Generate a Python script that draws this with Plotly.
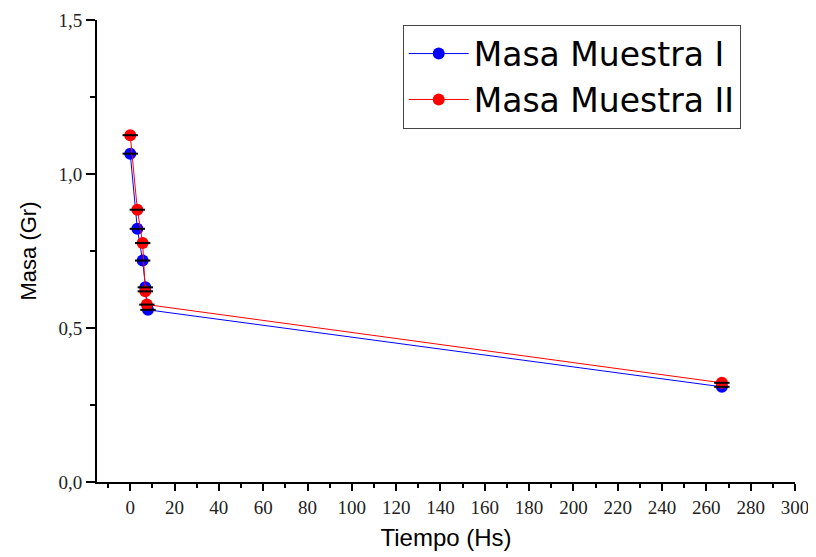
import plotly.graph_objects as go

tiempo_1 = [0, 3.2, 5.6, 6.8, 8.0, 267]
masa_1 = [1.066, 0.822, 0.719, 0.632, 0.559, 0.309]
tiempo_2 = [0, 3.2, 5.6, 6.8, 7.5, 267]
masa_2 = [1.126, 0.884, 0.776, 0.619, 0.576, 0.322]
nombres = ["Masa Muestra I", "Masa Muestra II"]
colores = ["#0000FF", "#FF0000"]

fig = go.Figure()
for t, m, n, c in [(tiempo_1, masa_1, nombres[0], colores[0]),
                   (tiempo_2, masa_2, nombres[1], colores[1])]:
    fig.add_trace(go.Scatter(
        x=t, y=m, name=n, mode="lines+markers",
        line=dict(color=c, width=1),
        marker=dict(color=c, size=12, symbol="circle"),
    ))
for t, m in [(tiempo_1, masa_1), (tiempo_2, masa_2)]:
    fig.add_trace(go.Scatter(
        x=t, y=m, mode="markers", showlegend=False, hoverinfo="skip",
        marker=dict(symbol="line-ew", size=11, line=dict(color="black", width=2)),
    ))

fig.update_layout(
    width=816, height=557,
    margin=dict(l=89, r=29, t=12, b=83),
    paper_bgcolor="white", plot_bgcolor="white",
    separators=",.",
    showlegend=True,
    legend=dict(x=0.438, y=0.99, xanchor="left", yanchor="top",
                bgcolor="white", bordercolor="#444", borderwidth=1,
                font=dict(family="DejaVu Sans", size=33, color="black"),
                tracegroupgap=0, itemwidth=60),
    font=dict(family="Liberation Sans, Arial", color="black"),
)
fig.update_xaxes(
    range=[-15, 300], tick0=0, dtick=20, ticks="outside", ticklen=7, tickwidth=2,
    tickcolor="black", showline=True, linecolor="black", linewidth=2,
    showgrid=False, zeroline=False, automargin=False,
    tickfont=dict(family="Liberation Serif, Times New Roman", size=19, color="#222"),
    minor=dict(dtick=10, tick0=0, ticks="outside", ticklen=4, tickwidth=2, tickcolor="black"),
    title=dict(text="Tiempo (Hs)", font=dict(family="Liberation Sans, Arial", size=24), standoff=12),
)
fig.update_yaxes(
    range=[0, 1.5], tick0=0, dtick=0.5, tickformat=".1f", ticks="outside", ticklen=9,
    tickwidth=2, tickcolor="black", showline=True, linecolor="black", linewidth=2,
    showgrid=False, zeroline=False, automargin=False,
    tickfont=dict(family="Liberation Serif, Times New Roman", size=19, color="#222"),
    minor=dict(dtick=0.25, tick0=0, ticks="outside", ticklen=5, tickwidth=2, tickcolor="black"),
    title=dict(text="Masa (Gr)", font=dict(family="Liberation Sans, Arial", size=22), standoff=16),
)
fig.write_html("out.html")
